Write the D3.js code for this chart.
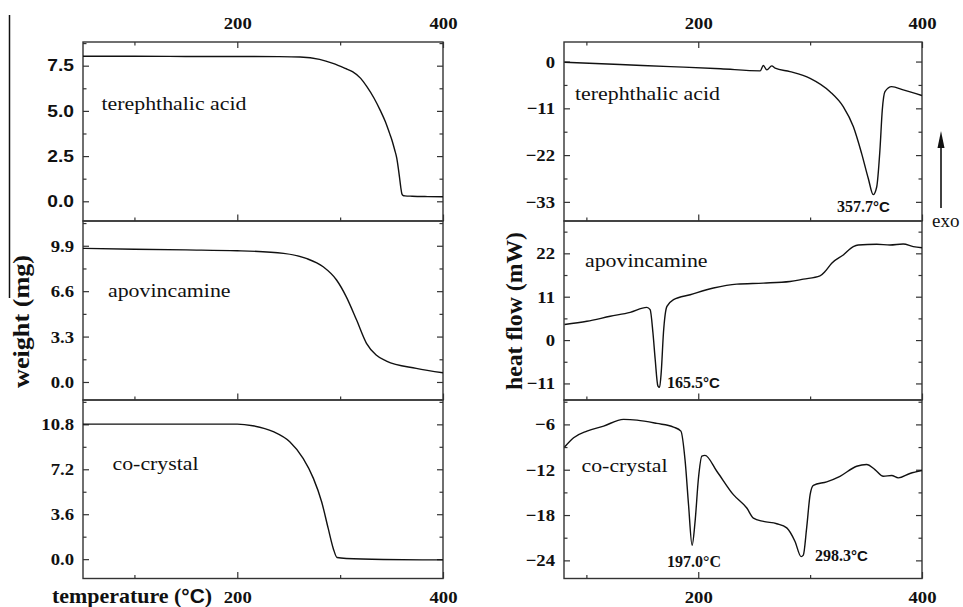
<!DOCTYPE html>
<html>
<head>
<meta charset="utf-8">
<script src="https://cdn.jsdelivr.net/npm/d3@7"></script>
<style>
  body { margin: 0; background: #fff; }
  svg { display: block; }
</style>
</head>
<body>
<script>
// TGA curves (temperature °C, weight mg)
const taTgaT = [50, 100, 150, 200, 240, 261, 280, 293, 305, 312, 320, 326, 333, 339, 344, 348, 350, 353, 355, 356.5, 358, 359, 360, 361, 363, 370, 385, 400];
const taTgaW = [8.02, 8.02, 8.01, 8.01, 8.0, 7.98, 7.85, 7.63, 7.35, 7.17, 6.8, 6.34, 5.7, 5.03, 4.4, 3.77, 3.45, 2.85, 2.4, 1.85, 1.2, 0.75, 0.42, 0.33, 0.3, 0.28, 0.26, 0.25];

const apoTgaT = [50, 100, 150, 200, 245, 267, 283.5, 296.5, 306, 316, 325.6, 335, 345, 374, 400];
const apoTgaW = [9.71, 9.65, 9.6, 9.54, 9.35, 8.98, 8.37, 7.41, 6.19, 4.5, 2.81, 1.96, 1.52, 0.99, 0.67];

const ccTgaT = [50, 100, 150, 200, 215, 235, 251, 264, 274, 282, 288.4, 293.3, 297, 306, 342, 400];
const ccTgaW = [10.82, 10.82, 10.82, 10.82, 10.69, 10.21, 9.4, 8.07, 6.47, 4.6, 2.46, 0.86, 0.13, 0.05, -0.03, -0.06];

// DSC curves (temperature °C, heat flow mW)
const taDscT = [80.5, 130, 175, 220, 255.3, 258.2, 261.3, 265.7, 268.7, 282, 300, 317.8, 329.6, 338.6, 346, 352, 356.4, 359.5, 362.4, 364.5, 366.9, 372.9, 383.2, 400];
const taDscH = [-0.15, -0.7, -1.18, -1.7, -2.19, -0.94, -1.96, -1.01, -1.57, -2.36, -3.93, -7.08, -10.6, -15.3, -21.6, -27.5, -31.3, -29.5, -20.8, -11.4, -7.07, -5.9, -6.67, -8.0];

const apoDscT = [80.5, 100.5, 121.3, 139.2, 154, 157, 159.5, 161.5, 163.9, 165.4, 166.9, 168.9, 172, 177.9, 192.8, 213.6, 234.5, 258.2, 282, 294, 308.8, 313.3, 319.3, 329.6, 338.6, 343, 359.5, 371.4, 383.2, 392.2, 400];
const apoDscH = [3.94, 4.77, 6.03, 7.04, 8.3, 7.72, 1.85, -4.88, -11.6, -12.0, -8.2, 1.85, 8.55, 10.24, 11.5, 13.2, 14.2, 14.45, 14.85, 15.45, 16.28, 17.4, 19.5, 21.57, 23.7, 24.1, 24.3, 24.1, 24.35, 23.7, 23.4];

const ccDscT = [80.5, 88.6, 100.5, 115.4, 133.2, 145.2, 163, 177.9, 184.5, 188.3, 191.3, 194.5, 197.2, 200.2, 203.2, 206, 216.6, 231.4, 243.4, 249.3, 258.2, 270.2, 279.1, 286.5, 291.9, 293.9, 296.9, 300, 302.9, 314.8, 326.7, 341.6, 350.5, 357.9, 365.4, 372.9, 378.8, 389.2, 400];
const ccDscH = [-9.0, -7.77, -6.89, -6.22, -5.34, -5.43, -5.87, -6.35, -6.89, -10.87, -16.6, -22.0, -18.8, -13.1, -10.2, -10.1, -12.2, -15.3, -17.07, -18.4, -18.84, -19.15, -19.7, -21.5, -23.5, -23.3, -19.7, -15.3, -14.06, -13.6, -12.87, -11.54, -11.31, -11.98, -12.87, -12.77, -13.08, -12.5, -12.1];

// tick labels
const tempTicks = [200, 400];
const tempMinor = [100, 300];
const tgaTicksTA = [0, 2.5, 5.0, 7.5];
const tgaTicksApo = [0, 3.3, 6.6, 9.9];
const tgaTicksCC = [0, 3.6, 7.2, 10.8];
const dscTicksTA = [-33, -22, -11, 0];
const dscTicksApo = [-11, 0, 11, 22];
const dscTicksCC = [-24, -18, -12, -6];

const sampleNames = ["terephthalic acid", "apovincamine", "co-crystal"];
const peakTemps = ["357.7", "165.5", "197.0", "298.3"];

const W = 963, H = 607;
const serif = "'Liberation Serif', 'Times New Roman', serif";
const sans = "'Liberation Sans', Arial, sans-serif";

const svg = d3.select("body").append("svg")
  .attr("width", W)
  .attr("height", H);

// widen glyphs a bit, the source picture is stretched sideways
function stretch(sel, f) {
  sel.each(function () {
    const L = this.getComputedTextLength();
    if (L > 0) d3.select(this).attr("textLength", L * f).attr("lengthAdjust", "spacingAndGlyphs");
  });
}

const rows = [[42, 221], [221, 400], [400, 578.5]];
const cols = { tga: [83, 443], dsc: [564, 922] };

const panels = [
  { col: "tga", row: 0, xd: [50, 400], yd: [-1.09, 8.81], ticks: tgaTicksTA, fmt: d3.format(".1f"), t: taTgaT, v: taTgaW, name: sampleNames[0], lx: 101.5, ly: 110, tickFont: sans, tickSize: "16px", tickStretch: 1.2 },
  { col: "tga", row: 1, xd: [50, 400], yd: [-1.31, 11.7], ticks: tgaTicksApo, fmt: d3.format(".1f"), t: apoTgaT, v: apoTgaW, name: sampleNames[1], lx: 108, ly: 296.5 },
  { col: "tga", row: 2, xd: [50, 400], yd: [-1.55, 12.75], ticks: tgaTicksCC, fmt: d3.format(".1f"), t: ccTgaT, v: ccTgaW, name: sampleNames[2], lx: 112.5, ly: 470 },
  { col: "dsc", row: 0, xd: [80, 400], yd: [-37.5, 4.6], ticks: dscTicksTA, fmt: d3.format("d"), t: taDscT, v: taDscH, name: sampleNames[0], lx: 575, ly: 100 },
  { col: "dsc", row: 1, xd: [80, 400], yd: [-15.2, 30.2], ticks: dscTicksApo, fmt: d3.format("d"), t: apoDscT, v: apoDscH, name: sampleNames[1], lx: 585, ly: 266.5 },
  { col: "dsc", row: 2, xd: [80, 400], yd: [-26.4, -2.77], ticks: dscTicksCC, fmt: d3.format("d"), t: ccDscT, v: ccDscH, name: sampleNames[2], lx: 581.5, ly: 472 }
];

function styleAxis(g, font, size, f) {
  g.select(".domain").remove();
  g.selectAll("line").attr("stroke", "#333").attr("stroke-width", 1.2);
  const txt = g.selectAll("text")
    .attr("fill", "#111")
    .style("font-family", font)
    .style("font-size", size)
    .style("font-weight", "bold");
  stretch(txt, f || 1.1);
}

panels.forEach((p, i) => {
  const [x0, x1] = cols[p.col];
  const [y0, y1] = rows[p.row];
  const x = d3.scaleLinear().domain(p.xd).range([x0, x1]);
  const y = d3.scaleLinear().domain(p.yd).range([y1, y0]);
  const step = p.ticks[1] - p.ticks[0];
  const minor = d3.range(p.ticks[0] - step / 2, p.ticks[p.ticks.length - 1] + step, step)
    .filter(v => v > p.yd[0] && v < p.yd[1]);
  const font = p.tickFont || serif;
  const fsize = p.tickSize || "17px";

  const g = svg.append("g");

  g.append("clipPath").attr("id", "clip" + i)
    .append("rect").attr("x", x0).attr("y", y0).attr("width", x1 - x0).attr("height", y1 - y0);

  // y axes, ticks point inward
  g.append("g").attr("transform", `translate(${x0},0)`)
    .call(d3.axisLeft(y).tickValues(p.ticks).tickFormat(p.fmt).tickSize(-6).tickPadding(9))
    .call(a => styleAxis(a, font, fsize, p.tickStretch));
  g.append("g").attr("transform", `translate(${x0},0)`)
    .call(d3.axisLeft(y).tickValues(minor).tickFormat("").tickSize(-3.5))
    .call(a => styleAxis(a, font, fsize));
  g.append("g").attr("transform", `translate(${x1},0)`)
    .call(d3.axisRight(y).tickValues(p.ticks).tickFormat("").tickSize(-6))
    .call(a => styleAxis(a, font, fsize));
  g.append("g").attr("transform", `translate(${x1},0)`)
    .call(d3.axisRight(y).tickValues(minor).tickFormat("").tickSize(-3.5))
    .call(a => styleAxis(a, font, fsize));

  // bottom ticks, labels only on the last row
  g.append("g").attr("transform", `translate(0,${y1})`)
    .call(d3.axisBottom(x).tickValues(tempTicks).tickSize(-6.5).tickPadding(12)
      .tickFormat(p.row === 2 ? d3.format("d") : ""))
    .call(a => styleAxis(a, serif, "17px"));
  g.append("g").attr("transform", `translate(0,${y1})`)
    .call(d3.axisBottom(x).tickValues(tempMinor).tickSize(-3.5).tickFormat(""))
    .call(a => styleAxis(a, serif, "17px"));

  // top ticks on the first row
  if (p.row === 0) {
    g.append("g").attr("transform", `translate(0,${y0})`)
      .call(d3.axisTop(x).tickValues(tempTicks).tickSize(-6).tickPadding(13).tickFormat(d3.format("d")))
      .call(a => styleAxis(a, serif, "17px"));
    g.append("g").attr("transform", `translate(0,${y0})`)
      .call(d3.axisTop(x).tickValues(tempMinor).tickSize(-3.5).tickFormat(""))
      .call(a => styleAxis(a, serif, "17px"));
  }

  // frame
  g.append("rect")
    .attr("x", x0).attr("y", y0)
    .attr("width", x1 - x0).attr("height", y1 - y0)
    .attr("fill", "none")
    .attr("stroke", "#333")
    .attr("stroke-width", 1.4);

  // curve
  const line = d3.line()
    .x((d, k) => x(p.t[k]))
    .y(d => y(d))
    .curve(d3.curveMonotoneX);
  g.append("path")
    .datum(p.v)
    .attr("clip-path", `url(#clip${i})`)
    .attr("fill", "none")
    .attr("stroke", "#111")
    .attr("stroke-width", 1.4)
    .attr("d", line);

  // sample name
  g.append("text")
    .attr("x", p.lx).attr("y", p.ly)
    .style("font-family", serif)
    .style("font-size", "19.5px")
    .attr("fill", "#111")
    .text(p.name)
    .call(s => stretch(s, 1.12));
});

// peak annotations
const peaks = [
  { text: peakTemps[0], x: 837, y: 212, cSans: true },
  { text: peakTemps[1], x: 667, y: 388, cSans: true },
  { text: peakTemps[2], x: 667, y: 566.5, cSans: false },
  { text: peakTemps[3], x: 815, y: 560.5, cSans: true }
];
peaks.forEach(pk => {
  const t = svg.append("text")
    .attr("x", pk.x).attr("y", pk.y)
    .attr("fill", "#111")
    .style("font-family", serif)
    .style("font-size", "16px")
    .style("font-weight", "bold");
  t.append("tspan").text(pk.text);
  t.append("tspan")
    .style("font-family", pk.cSans ? sans : serif)
    .style("font-size", pk.cSans ? "15px" : "16px")
    .text("°C");
});

// axis titles
svg.append("text")
  .attr("transform", "translate(29,321.5) rotate(-90)")
  .attr("text-anchor", "middle")
  .attr("textLength", 133)
  .attr("lengthAdjust", "spacingAndGlyphs")
  .style("font-family", serif)
  .style("font-size", "24px")
  .style("font-weight", "bold")
  .attr("fill", "#111")
  .text("weight (mg)");

svg.append("text")
  .attr("transform", "translate(522,311) rotate(-90)")
  .attr("text-anchor", "middle")
  .attr("textLength", 158)
  .attr("lengthAdjust", "spacingAndGlyphs")
  .style("font-family", serif)
  .style("font-size", "24px")
  .style("font-weight", "bold")
  .attr("fill", "#111")
  .text("heat flow (mW)");

const tt = svg.append("text")
  .attr("x", 52).attr("y", 603)
  .attr("fill", "#111")
  .style("font-family", serif)
  .style("font-size", "21px")
  .style("font-weight", "bold");
tt.append("tspan").text("temperature (");
tt.append("tspan").style("font-family", sans).style("font-size", "20px").text("°C");
tt.append("tspan").text(")");
stretch(tt, 1.045);

// exo arrow
svg.append("line")
  .attr("x1", 941).attr("y1", 208)
  .attr("x2", 941).attr("y2", 145)
  .attr("stroke", "#111")
  .attr("stroke-width", 1.6);
svg.append("path")
  .attr("d", d3.line()([[941, 131], [944.5, 148], [937.5, 148]]) + "Z")
  .attr("fill", "#111");
svg.append("text")
  .attr("x", 932).attr("y", 227)
  .style("font-family", serif)
  .style("font-size", "19px")
  .attr("fill", "#111")
  .text("exo");

// crop edge line at far left
svg.append("line")
  .attr("x1", 9.5).attr("x2", 9.5)
  .attr("y1", 15).attr("y2", 298)
  .attr("stroke", "#111")
  .attr("stroke-width", 1.5);
</script>
</body>
</html>
